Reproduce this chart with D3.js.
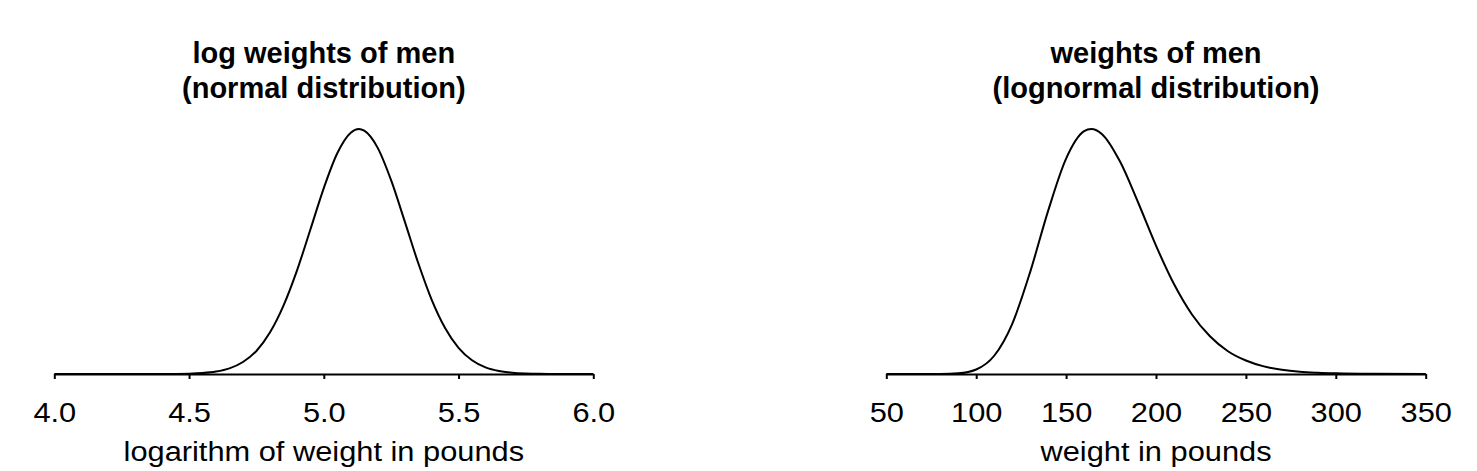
<!DOCTYPE html>
<html>
<head>
<meta charset="utf-8">
<script src="https://cdn.jsdelivr.net/npm/d3@7"></script>
<style>
  html, body { margin: 0; padding: 0; background: #fff; }
  svg { display: block; }
  text { font-family: "Liberation Sans", Arial, Helvetica, sans-serif; fill: #000; }
</style>
</head>
<body>
<svg id="chart" width="1477" height="471"></svg>
<script>
// ---- Data (heights relative to the peak) ----
const logX = [4.0, 4.3, 4.4, 4.5, 4.55, 4.6, 4.65, 4.7, 4.75, 4.8, 4.85, 4.9, 4.95, 5.0, 5.05, 5.1, 5.13, 5.15, 5.2, 5.25, 5.3, 5.35, 5.4, 5.45, 5.5, 5.55, 5.6, 5.65, 5.7, 5.75, 5.8, 5.9, 6.0];
const logY = [0, 0, 0.0002, 0.0015, 0.004, 0.010, 0.023, 0.049, 0.094, 0.169, 0.278, 0.421, 0.589, 0.759, 0.901, 0.985, 1.0, 0.993, 0.923, 0.790, 0.624, 0.454, 0.304, 0.188, 0.107, 0.056, 0.027, 0.012, 0.005, 0.0019, 0.0006, 0, 0];

const wX = [50, 70, 80, 90, 100, 110, 120, 130, 140, 150, 160, 164, 170, 180, 190, 200, 210, 220, 230, 240, 250, 260, 270, 280, 290, 300, 320, 350];
const wY = [0, 0, 0.0002, 0.0028, 0.0185, 0.0745, 0.204, 0.416, 0.666, 0.879, 0.991, 1.0, 0.979, 0.867, 0.701, 0.524, 0.367, 0.243, 0.154, 0.093, 0.055, 0.031, 0.017, 0.009, 0.005, 0.0026, 0.0007, 0.0001];

const logTicks = [4.0, 4.5, 5.0, 5.5, 6.0];
const logTickLabels = ["4.0", "4.5", "5.0", "5.5", "6.0"];
const wTicks = [50, 100, 150, 200, 250, 300, 350];
const wTickLabels = ["50", "100", "150", "200", "250", "300", "350"];

const titlesLeft = ["log weights of men", "(normal distribution)"];
const titlesRight = ["weights of men", "(lognormal distribution)"];
const xLabelLeft = "logarithm of weight in pounds";
const xLabelRight = "weight in pounds";

// ---- Layout ----
const svg = d3.select("#chart");
const baseY = 374, peakY = 129;
const yScale = d3.scaleLinear().domain([0, 1]).range([baseY, peakY]);

function panel(xs, ys, domain, range, ticks, tickLabels, titles, xLabel) {
  const x = d3.scaleLinear().domain(domain).range(range);
  const cx = (range[0] + range[1]) / 2;
  const g = svg.append("g");

  // axis
  const axis = d3.axisBottom(x).tickValues(ticks).tickSize(5).tickSizeOuter(0)
    .tickFormat((d, i) => tickLabels[i]);
  const ag = g.append("g").attr("transform", `translate(0,${baseY})`).call(axis);
  ag.select(".domain").attr("stroke", "#000").attr("stroke-width", 2);
  ag.selectAll(".tick line").attr("stroke", "#000").attr("stroke-width", 2);
  ag.selectAll(".tick text").remove();
  ag.selectAll(".tick").append("text")
    .attr("transform", "translate(0,47.5) scale(1.1,1)")
    .attr("text-anchor", "middle")
    .style("font-size", "28px")
    .text((d, i) => tickLabels[i]);

  // curve
  const pts = xs.map((v, i) => [v, ys[i]]);
  const line = d3.line().x(d => x(d[0])).y(d => yScale(d[1])).curve(d3.curveMonotoneX);
  g.append("path").datum(pts).attr("d", line)
    .attr("fill", "none").attr("stroke", "#000").attr("stroke-width", 2);

  // x label
  g.append("text")
    .attr("transform", `translate(${cx},461) scale(1.1,1)`)
    .attr("text-anchor", "middle").style("font-size", "28px")
    .text(xLabel);

  // title
  titles.forEach((t, i) => {
    g.append("text")
      .attr("transform", `translate(${cx},${63 + i * 35})`)
      .attr("text-anchor", "middle").style("font-size", "29px").style("font-weight", "bold")
      .text(t);
  });
}

panel(logX, logY, [4.0, 6.0], [54.3, 593.3], logTicks, logTickLabels, titlesLeft, xLabelLeft);
panel(wX, wY, [50, 350], [886.3, 1425.7], wTicks, wTickLabels, titlesRight, xLabelRight);
</script>
</body>
</html>
